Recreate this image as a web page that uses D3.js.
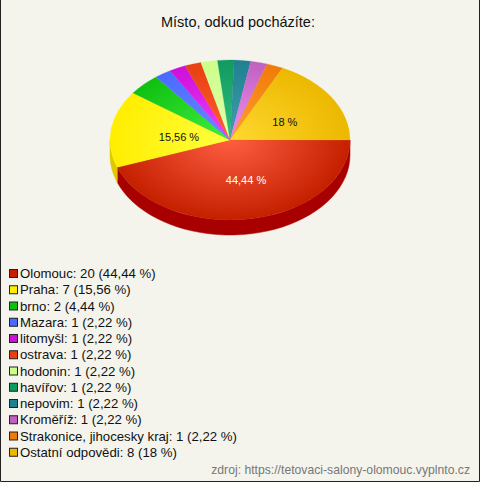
<!DOCTYPE html>
<html>
<head>
<meta charset="utf-8">
<script src="https://cdn.jsdelivr.net/npm/d3@7"></script>
<style>
  html, body { margin: 0; padding: 0; background: #f4f4ec; }
  svg { display: block; }
</style>
</head>
<body>
<div id="chart"></div>
<script>
const categories = ["Olomouc", "Praha", "brno", "Mazara", "litomyšl", "ostrava", "hodonin",
  "havířov", "nepovim", "Kroměříž", "Strakonice, jihocesky kraj", "Ostatní odpovědi"]
const counts = [20, 7, 2, 1, 1, 1, 1, 1, 1, 1, 1, 8]
const percents = ["44,44", "15,56", "4,44", "2,22", "2,22", "2,22", "2,22", "2,22", "2,22", "2,22", "2,22", "18"]
const colors = ["#c42000", "#ffee00", "#10c010", "#4a6aff", "#cc10d8", "#e84010", "#ccff88",
  "#119a60", "#20808f", "#c060c0", "#f07a08", "#ecb800"]
const lightColors = ["#ff5e42", "#ffff40", "#40f040", "#6a8aff", "#f040ff", "#ff6030", "#e0ffb0",
  "#30c080", "#40a0b0", "#f090f0", "#ffa030", "#ffd830"]
const sideColors = ["#a80000", "#e0c800", "#089008", "#3050d0", "#a000b0", "#c03000", "#a0d060",
  "#0a7a48", "#156070", "#a04aa0", "#c86000", "#c89800"]

const width = 480, height = 482
const cx = 230, cy = 140, rx = 120, ry = 80, depth = 15

const svg = d3.select("#chart").append("svg")
  .attr("width", width)
  .attr("height", height)
  .style("font-family", "'Liberation Sans', Arial, sans-serif")

svg.append("rect")
  .attr("width", width).attr("height", height)
  .attr("fill", "#f4f4ec")

// border only left, right, bottom
svg.append("path")
  .attr("d", `M0.5,0 V${height - 0.5} H${width - 0.5} V0`)
  .attr("fill", "none")
  .attr("stroke", "#222")

svg.append("text")
  .attr("x", 238).attr("y", 27)
  .attr("text-anchor", "middle")
  .attr("font-size", 14.5)
  .attr("fill", "#111")
  .text("Místo, odkud pocházíte:")

const data = categories.map((c, i) => ({ name: c, value: counts[i], pct: percents[i], i }))

// d3 angle 0 = 12 o'clock; start at 3 o'clock, clockwise
const pie = d3.pie()
  .value(d => d.value)
  .sort(null)
  .startAngle(Math.PI / 2)
  .endAngle(Math.PI / 2 + 2 * Math.PI)
const arcs = pie(data)

const defs = svg.append("defs")
arcs.forEach((a, i) => {
  const g = defs.append("radialGradient")
    .attr("id", "grad" + i)
    .attr("gradientUnits", "userSpaceOnUse")
    .attr("cx", 0).attr("cy", 0).attr("r", rx)
  g.append("stop").attr("offset", "0%").attr("stop-color", lightColors[i])
  g.append("stop").attr("offset", "100%").attr("stop-color", colors[i])
})

// screen angle (0 = 3 o'clock, clockwise) to point on ellipse
const pt = (t, dy) => [cx + rx * Math.cos(t), cy + ry * Math.sin(t) + dy]

// side walls for the front half (screen angles 0..PI)
const sides = svg.append("g")
arcs.forEach((a, i) => {
  let t0 = Math.max(a.startAngle - Math.PI / 2, 0)
  let t1 = Math.min(a.endAngle - Math.PI / 2, Math.PI)
  if (t1 <= t0) return
  const p = d3.path()
  const steps = 40
  for (let k = 0; k <= steps; k++) {
    const [x, y] = pt(t0 + (t1 - t0) * k / steps, 0)
    k === 0 ? p.moveTo(x, y) : p.lineTo(x, y)
  }
  for (let k = steps; k >= 0; k--) {
    const [x, y] = pt(t0 + (t1 - t0) * k / steps, depth)
    p.lineTo(x, y)
  }
  p.closePath()
  sides.append("path")
    .attr("d", p.toString())
    .attr("fill", sideColors[i])
    .attr("stroke", sideColors[i])
    .attr("stroke-width", 0.5)
})

const arc = d3.arc().innerRadius(0).outerRadius(rx)
const topFace = svg.append("g")
  .attr("transform", `translate(${cx},${cy}) scale(1,${ry / rx})`)
topFace.selectAll("path")
  .data(arcs)
  .join("path")
  .attr("d", arc)
  .attr("fill", (d, i) => `url(#grad${i})`)
  .attr("stroke", (d, i) => colors[i])
  .attr("stroke-width", 0.3)

// percentage labels on the big slices
const labelArc = d3.arc().innerRadius(rx * 0.48).outerRadius(rx * 0.48)
svg.append("g")
  .selectAll("text")
  .data(arcs.filter(d => d.data.value / d3.sum(counts) > 0.1))
  .join("text")
  .attr("x", d => cx + 6 + labelArc.centroid(d)[0])
  .attr("y", d => cy + labelArc.centroid(d)[1] * ry / rx + 6)
  .attr("text-anchor", "middle")
  .attr("font-size", 11)
  .attr("fill", d => d.data.i === 0 ? "#fff" : "#111")
  .text(d => d.data.pct + " %")

// legend
const yScale = d3.scaleBand()
  .domain(categories)
  .range([265, 460])
  .paddingInner(0)
const legend = svg.append("g")
  .selectAll("g")
  .data(data)
  .join("g")
  .attr("transform", d => `translate(0,${yScale(d.name)})`)
legend.append("rect")
  .attr("x", 9.5).attr("y", 4.5)
  .attr("width", 8).attr("height", 8)
  .attr("fill", d => colors[d.i])
  .attr("stroke", "#222")
legend.append("text")
  .attr("x", 20).attr("y", 13)
  .attr("font-size", 13.2)
  .attr("fill", "#111")
  .text(d => `${d.name}: ${d.value} (${d.pct} %)`)

svg.append("text")
  .attr("x", 470).attr("y", 474)
  .attr("text-anchor", "end")
  .attr("font-size", 12.2)
  .attr("fill", "#777")
  .text("zdroj: https://tetovaci-salony-olomouc.vyplnto.cz")
</script>
</body>
</html>
